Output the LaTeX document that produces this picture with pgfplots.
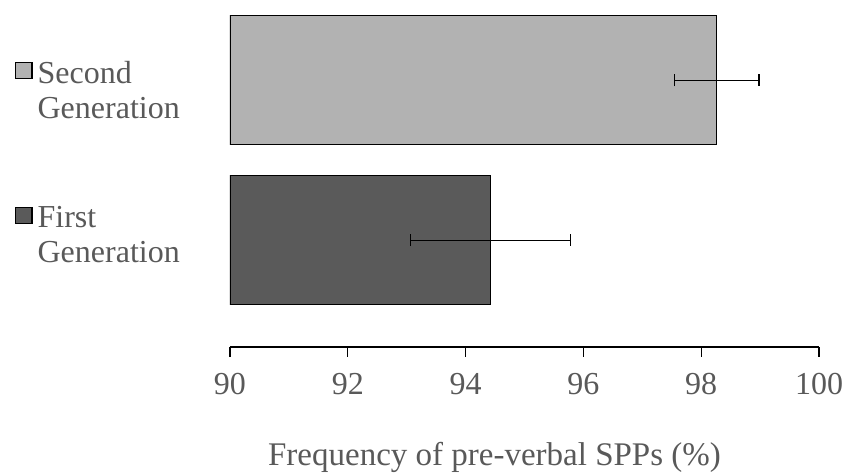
\documentclass[border=0pt]{standalone}
\usepackage{pgfplots}
\pgfplotsset{compat=1.18}
\usetikzlibrary{calc}
\usepackage{fontspec}
\setmainfont{Liberation Serif}
\definecolor{txt}{HTML}{595959}
\definecolor{lightbar}{HTML}{B2B2B2}
\definecolor{darkbar}{HTML}{5A5A5A}
\begin{document}
\begin{tikzpicture}
\begin{axis}[
  scale only axis, width=589pt, height=331pt,
  xbar, bar width=129pt, bar shift=0pt,
  xmin=90, xmax=100, ymin=0.331, ymax=2.403,
  axis x line*=bottom, axis y line=none,
  xtick={90,92,...,100},
  tick align=outside, major tick length=10pt,
  x axis line style={black, line width=1.2pt, -},
  xtick style={black, line width=1.2pt},
  /pgf/number format/assume math mode=true,
  ticklabel style={font=\fontsize{32}{38}\selectfont, text=txt, yshift=-13pt},
  xlabel={Frequency of pre-verbal SPPs (\%)},
  xlabel style={font=\fontsize{33}{38}\selectfont, text=txt, yshift=-40pt, xshift=-30pt},
  legend style={at={(rel axis cs:0,0.5)}, anchor=east, xshift=-45pt, yshift=19pt,
    draw=none, fill=none, font=\fontsize{32}{35}\selectfont, text=txt,
    nodes={align=left, inner sep=2pt}, row sep=83pt},
  legend cell align=left,
  legend image code/.code={\draw[#1, line width=1.2pt] (0pt,11.5pt) rectangle (16.5pt,28pt);
    \path (19.5pt,20pt);},
  error bars/error mark=|,
  error bars/error bar style={black, line width=1.2pt},
  error bars/error mark options={black, line width=1.2pt, mark size=6pt},
]
\addplot[fill=lightbar, draw=black, line width=1.2pt,
  error bars/.cd, x dir=both, x explicit]
  coordinates {(98.26,2) +- (0.72,0)};
\addlegendentry{Second\\Generation}
\addplot[fill=darkbar, draw=black, line width=1.2pt,
  error bars/.cd, x dir=both, x explicit]
  coordinates {(94.42,1) +- (1.36,0)};
\addlegendentry{First\\Generation}
\coordinate (A) at (rel axis cs:0,0);
\coordinate (B) at (rel axis cs:1,1);
\end{axis}
\pgfresetboundingbox
\path ($(A)+(-230pt,-128pt)$) rectangle ($(B)+(27pt,16pt)$);
\end{tikzpicture}
\end{document}
